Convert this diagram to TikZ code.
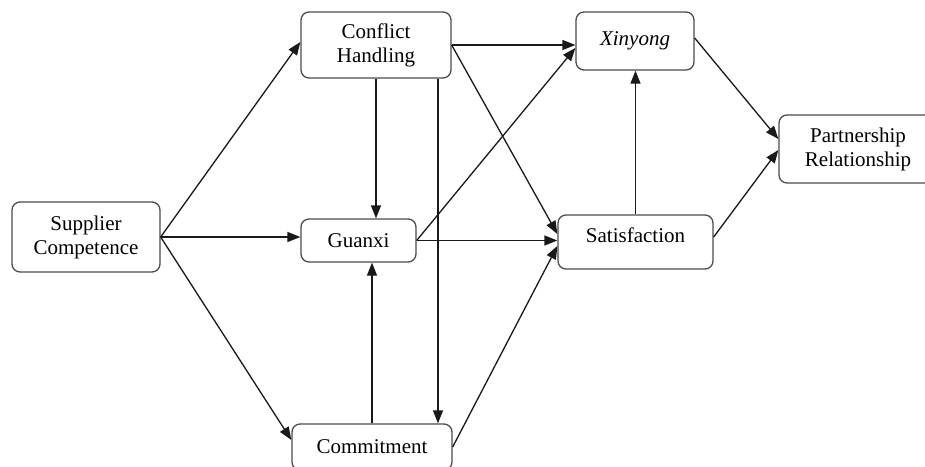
\documentclass[tikz,border=0pt]{standalone}
\usepackage{fontspec}
\setmainfont{Liberation Serif}
\usetikzlibrary{arrows.meta}
\begin{document}
\begin{tikzpicture}[x=1pt,y=-1pt,
  box/.style={draw=black!70, line width=1.3pt, rounded corners=8pt, fill=white,
    inner sep=0pt, align=center, font=\rmfamily\fontsize{21}{24}\selectfont},
  arr/.style={draw=black!90, line width=1.3pt, -{Triangle[length=13pt,width=10pt]}}]
\useasboundingbox (0,0) rectangle (925,466);
\node[box, minimum width=148pt, minimum height=70pt] (sc) at (86,237) {Supplier\\Competence};
\node[box, minimum width=150pt, minimum height=66pt] (ch) at (376,45) {Conflict\\Handling};
\node[box, minimum width=118pt, minimum height=58pt] (xy) at (635,41) {\textit{Xinyong}};
\node[box, minimum width=158pt, minimum height=68pt] (pr) at (858,149) {Partnership\\Relationship};
\node[box, minimum width=155pt, minimum height=54pt, text depth=14pt] (sat) at (635.5,242) {Satisfaction};
\node[box, minimum width=115pt, minimum height=43pt] (gx) at (358.5,240.5) {Guanxi};
\node[box, minimum width=160pt, minimum height=46pt] (cm) at (372,447) {Commitment};

\draw[arr] (sc.east) -- ([yshift=3pt]ch.west);
\draw[arr] (sc.east) -- (sc.east -| gx.west);
\draw[arr] (sc.east) -- ([yshift=7pt]cm.west);
\draw[arr] (ch.south) -- (ch.south |- gx.north);
\draw[arr] ([xshift=62pt]ch.south) -- ([xshift=62pt]ch.south |- cm.north);
\draw[arr] (ch.east) -- (ch.east -| xy.west);
\draw[arr] (ch.east) -- ([yshift=8pt]sat.west);
\draw[arr] (gx.east) -- ([yshift=-7pt]xy.west);
\draw[arr] (gx.east) -- (gx.east -| sat.west);
\draw[arr] (cm.north) -- (cm.north |- gx.south);
\draw[arr] (cm.east) -- ([yshift=-4pt]sat.west);
\draw[arr] (sat.north) -- (sat.north |- xy.south);
\draw[arr] ([yshift=3pt]xy.east) -- ([yshift=10pt]pr.west);
\draw[arr] ([yshift=5pt]sat.east) -- ([yshift=-1pt]pr.west);
\end{tikzpicture}
\end{document}
